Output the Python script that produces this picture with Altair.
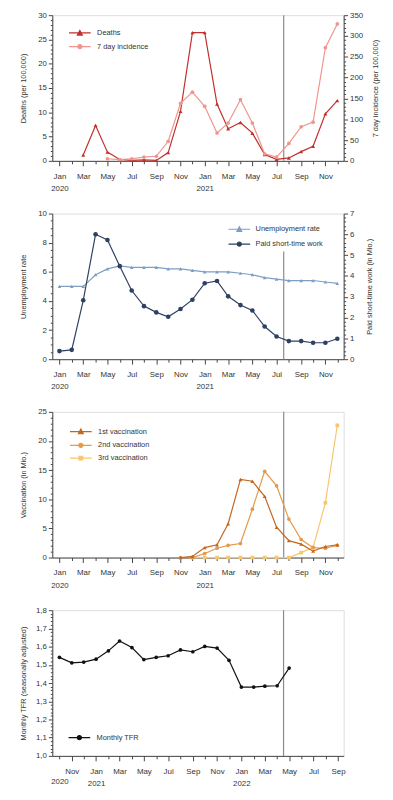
import altair as alt
import pandas as pd

FONT = "Liberation Sans"
W, H = 296, 148

# ---------------- data ----------------
months_20_21 = [
    "2020-01-01", "2020-02-01", "2020-03-01", "2020-04-01", "2020-05-01", "2020-06-01",
    "2020-07-01", "2020-08-01", "2020-09-01", "2020-10-01", "2020-11-01", "2020-12-01",
    "2021-01-01", "2021-02-01", "2021-03-01", "2021-04-01", "2021-05-01", "2021-06-01",
    "2021-07-01", "2021-08-01", "2021-09-01", "2021-10-01", "2021-11-01", "2021-12-01",
]
deaths = [None, None, 1.2, 7.3, 1.8, 0.3, 0.1, 0.2, 0.1, 1.7, 10.2, 26.4,
          26.4, 11.7, 6.6, 7.9, 5.7, 1.3, 0.3, 0.6, 1.9, 3.0, 9.7, 12.4]
incidence = [None, None, None, None, 5, 3, 5, 9, 11, 47, 138, 165,
             131, 67, 91, 147, 91, 17, 9, 42, 82, 93, 272, 329]

unemployment = [5.0, 5.0, 5.0, 5.8, 6.2, 6.4, 6.3, 6.3, 6.3, 6.2, 6.2, 6.1,
                6.0, 6.0, 6.0, 5.9, 5.8, 5.6, 5.5, 5.4, 5.4, 5.4, 5.3, 5.2]
short_time = [0.39, 0.45, 2.83, 6.0, 5.73, 4.47, 3.30, 2.55, 2.25, 2.04, 2.41, 2.86,
              3.65, 3.76, 3.02, 2.60, 2.34, 1.57, 1.09, 0.87, 0.87, 0.79, 0.79, 0.98]

vacc1 = [None] * 10 + [0.0, 0.2, 1.7, 2.2, 5.8, 13.4, 13.1, 10.5, 5.2, 2.9, 2.3, 1.1, 1.9, 2.2]
vacc2 = [None] * 10 + [0.0, 0.0, 0.7, 1.6, 2.1, 2.4, 8.3, 14.8, 12.3, 6.6, 3.1, 1.7, 1.6, 2.1]
vacc3 = [None] * 11 + [0.0, 0.0, 0.0, 0.0, 0.0, 0.0, 0.0, 0.0, 0.0, 0.85, 1.75, 9.4, 22.7]

months_tfr = [
    "2020-10-01", "2020-11-01", "2020-12-01", "2021-01-01", "2021-02-01", "2021-03-01",
    "2021-04-01", "2021-05-01", "2021-06-01", "2021-07-01", "2021-08-01", "2021-09-01",
    "2021-10-01", "2021-11-01", "2021-12-01", "2022-01-01", "2022-02-01", "2022-03-01",
    "2022-04-01", "2022-05-01",
]
tfr = [1.541, 1.511, 1.515, 1.531, 1.577, 1.631, 1.595, 1.529, 1.541, 1.550, 1.582, 1.572,
       1.601, 1.592, 1.525, 1.378, 1.378, 1.383, 1.385, 1.482]
axis_months_tfr = [
    "2020-10-01", "2020-11-01", "2020-12-01", "2021-01-01", "2021-02-01", "2021-03-01",
    "2021-04-01", "2021-05-01", "2021-06-01", "2021-07-01", "2021-08-01", "2021-09-01",
    "2021-10-01", "2021-11-01", "2021-12-01", "2022-01-01", "2022-02-01", "2022-03-01",
    "2022-04-01", "2022-05-01", "2022-06-01", "2022-07-01", "2022-08-01", "2022-09-01",
]

marker_date_a = "2021-07-19"
marker_date_b = "2022-04-17"
domain_a = ["2019-12-14", "2021-12-17"]
domain_b = ["2020-09-13", "2022-09-15"]

C_DEATH, C_INC = "#c0302c", "#f0958c"
C_UNEMP, C_STW = "#7f9ec4", "#2e4163"
C_V1, C_V2, C_V3 = "#c4661e", "#e49a48", "#f7c76e"
C_TFR = "#111111"
AX = "#444444"
TXT = "#333333"
RULE = "#8a8a8a"


def ms(d):
    return int(pd.Timestamp(d).value // 10**6)


def dt(s):
    t = pd.Timestamp(s)
    return alt.DateTime(year=t.year, month=t.month, date=t.day, utc=True)


# ---------------- helpers ----------------
LABEL_A = ("utcmonth(datum.value) % 2 == 0 ? (utcmonth(datum.value) == 0 ? "
           "[utcFormat(datum.value, '%b'), utcFormat(datum.value, '%Y')] : "
           "utcFormat(datum.value, '%b')) : ''")
LABEL_B = ("utcmonth(datum.value) == 0 ? ['Jan', utcFormat(datum.value, '%Y')] : "
           "((utcyear(datum.value) == 2020 && utcmonth(datum.value) == 9) ? ['', '2020'] : "
           "(utcmonth(datum.value) % 2 == 0 ? utcFormat(datum.value, '%b') : ''))")


def x_axis(label_expr, values):
    return alt.Axis(
        values=[ms(v) for v in values], labelExpr=label_expr, title=None,
        grid=False, labelOverlap=False, labelFlush=False, labelFont=FONT,
        labelFontSize=8, labelColor=TXT, labelPadding=6.5, labelLineHeight=12.5,
        labelBound=False, domainColor=AX, tickColor=AX,
        tickSize={"condition": {"test": "utcmonth(datum.value) % 2 == 0", "value": 5}, "value": 3},
    )


def x_enc(domain, label_expr, values, field="date"):
    return alt.X(f"{field}:T", axis=x_axis(label_expr, values),
                 scale=alt.Scale(type="utc", domain=[dt(domain[0]), dt(domain[1])]))


def y_axis(title, values, major_test, label_expr, orient="left", title_x=-29):
    return alt.Axis(
        title=title, orient=orient, values=values, labelExpr=label_expr,
        grid=False, labelOverlap=False, labelFont=FONT, labelFontSize=8,
        labelColor=TXT, labelPadding=2, domainColor=AX, tickColor=AX,
        tickSize={"condition": {"test": major_test, "value": 4}, "value": 2},
        titleFont=FONT, titleFontSize=7.5, titleFontWeight="normal", titleColor=TXT,
        titleAngle=270, titleX=title_x, titleY=H / 2, titleAlign="center",
        titleBaseline="middle",
    )


def rng(a, b, step):
    n = int(round((b - a) / step))
    return [round(a + i * step, 4) for i in range(n + 1)]


LINE_PATH = "M-2,0H2"
TRI = "M-0.45,0.4L0,-0.45L0.45,0.4Z"
CIRC = "M-0.38,0A0.38,0.38 0 1,0 0.38,0A0.38,0.38 0 1,0 -0.38,0Z"
SQR = "M-0.35,-0.35H0.35V0.35H-0.35Z"


def legend_layer(names, shapes, colors, lx, ly, row_pad=2, label_offset=11):
    leg = alt.Legend(
        title=None, orient="none", legendX=lx, legendY=ly, padding=0,
        labelFont=FONT, labelFontSize=7.5, labelColor=TXT, labelOffset=label_offset,
        rowPadding=row_pad, symbolSize=121, symbolStrokeWidth=1.2, symbolOpacity=1,
    )
    sc = alt.Scale(domain=names, range=colors)
    return alt.Chart(pd.DataFrame({"series": names})).transform_filter("false").mark_point(
        filled=True, strokeWidth=1.2
    ).encode(
        fill=alt.Fill("series:N", scale=sc, legend=leg),
        stroke=alt.Stroke("series:N", scale=sc, legend=leg),
        shape=alt.Shape("series:N", scale=alt.Scale(domain=names,
                                                    range=[LINE_PATH + s for s in shapes]),
                        legend=leg),
    )


def series_df(dates, values, name):
    return pd.DataFrame({"date": dates, "value": values, "series": name}).dropna()


def series_layer(dates, values, name, color, shape, size, y, x):
    return alt.Chart(series_df(dates, values, name)).mark_line(
        strokeWidth=1.2, color=color,
        point=alt.OverlayMarkDef(shape=shape, filled=True, size=size, color=color),
    ).encode(x=x, y=y)


def rule_layer(date, x, y=None, y2=None):
    df = pd.DataFrame({"date": [date]})
    enc = {"x": x}
    if y is not None:
        df["bottom"] = [y[0]]
        df["top"] = [y[1]]
        enc["y"] = alt.Y("bottom:Q", scale=alt.Scale(domain=y2), axis=None)
        enc["y2"] = "top:Q"
    return alt.Chart(df).mark_rule(color=RULE, strokeWidth=1.2).encode(**enc)


xa = x_enc(domain_a, LABEL_A, months_20_21)

# ---------------- panel 1 ----------------
y_inc = alt.Y("value:Q", scale=alt.Scale(domain=[0, 350]),
              axis=y_axis("7 day incidence (per 100,000)", rng(0, 350, 10),
                          "datum.value % 50 == 0",
                          "datum.value % 50 == 0 ? format(datum.value, 'd') : ''",
                          orient="right", title_x=32.5))
y_death = alt.Y("value:Q", scale=alt.Scale(domain=[0, 30]),
                axis=y_axis("Deaths (per 100,000)", rng(0, 30, 1),
                            "datum.value % 5 == 0",
                            "datum.value % 5 == 0 ? format(datum.value, 'd') : ''"))
p1 = alt.layer(
    rule_layer(marker_date_a, xa),
    series_layer(months_20_21, deaths, "Deaths", C_DEATH, "triangle-up", 16, y_death, xa),
    series_layer(months_20_21, incidence, "7 day incidence", C_INC, "circle", 14, y_inc, xa),
    legend_layer(["Deaths", "7 day incidence"], [TRI, CIRC], [C_DEATH, C_INC], 21.5, 11.5),
).resolve_scale(y="independent").properties(width=W, height=H)

# ---------------- panel 2 ----------------
y_un = alt.Y("value:Q", scale=alt.Scale(domain=[0, 10]),
             axis=y_axis("Unemployment rate", rng(0, 10, 0.5),
                         "datum.value % 2 == 0",
                         "datum.value % 2 == 0 ? format(datum.value, 'd') : ''"))
y_stw = alt.Y("value:Q", scale=alt.Scale(domain=[0, 7]),
              axis=y_axis("Paid short-time work (in Mio.)", rng(0, 7, 0.2),
                          "abs(datum.value - round(datum.value)) < 0.001",
                          "abs(datum.value - round(datum.value)) < 0.001 ? format(datum.value, 'd') : ''",
                          orient="right", title_x=26))
p2 = alt.layer(
    rule_layer(marker_date_a, xa, y=(0, 7.4), y2=[0, 10]),
    series_layer(months_20_21, unemployment, "Unemployment rate", C_UNEMP, "triangle-up", 14, y_un, xa),
    series_layer(months_20_21, short_time, "Paid short-time work", C_STW, "circle", 22, y_stw, xa),
    legend_layer(["Unemployment rate", "Paid short-time work"], [TRI, CIRC], [C_UNEMP, C_STW],
                 183.5, 9.5, row_pad=3, label_offset=10),
).resolve_scale(y="independent").properties(width=W, height=H)

# ---------------- panel 3 ----------------
y3 = alt.Y("value:Q", scale=alt.Scale(domain=[0, 25]),
           axis=y_axis("Vaccination (in Mio.)", rng(0, 25, 1),
                       "datum.value % 5 == 0",
                       "datum.value % 5 == 0 ? format(datum.value, 'd') : ''"))
p3 = alt.layer(
    rule_layer(marker_date_a, xa),
    series_layer(months_20_21, vacc3, "3rd vaccination", C_V3, "square", 14, y3, xa),
    series_layer(months_20_21, vacc2, "2nd vaccination", C_V2, "circle", 14, y3, xa),
    series_layer(months_20_21, vacc1, "1st vaccination", C_V1, "triangle-up", 16, y3, xa),
    legend_layer(["1st vaccination", "2nd vaccination", "3rd vaccination"],
                 [TRI, CIRC, SQR], [C_V1, C_V2, C_V3], 22.5, 13.5),
).properties(width=W, height=H)

# ---------------- panel 4 ----------------
xb = x_enc(domain_b, LABEL_B, axis_months_tfr)
y4 = alt.Y("value:Q", scale=alt.Scale(domain=[1.0, 1.8]),
           axis=y_axis("Monthly TFR (seasonally adjusted)", rng(1.0, 1.8, 0.02),
                       "abs(datum.value * 10 - round(datum.value * 10)) < 0.001",
                       "abs(datum.value * 10 - round(datum.value * 10)) < 0.001 ? "
                       "replace(format(datum.value, '.1f'), '.', ',') : ''"))
p4 = alt.layer(
    rule_layer(marker_date_b, xb),
    series_layer(months_tfr, tfr, "Monthly TFR", C_TFR, "circle", 14, y4, xb),
    legend_layer(["Monthly TFR"], [CIRC], [C_TFR], 21, 123),
).properties(width=W, height=H)

chart = alt.vconcat(p1, p2, p3, p4, spacing=15.5).resolve_scale(
    x="independent", y="independent", fill="independent", stroke="independent",
    shape="independent"
).resolve_legend(fill="independent", stroke="independent", shape="independent").properties(
    padding={"left": 11, "top": -4, "right": 5, "bottom": 5}
).configure_view(stroke="#8c8c8c", strokeWidth=1.2).configure(
    font=FONT, background="white"
)

chart.save("out.html", embed_options={"renderer": "svg", "actions": False})
